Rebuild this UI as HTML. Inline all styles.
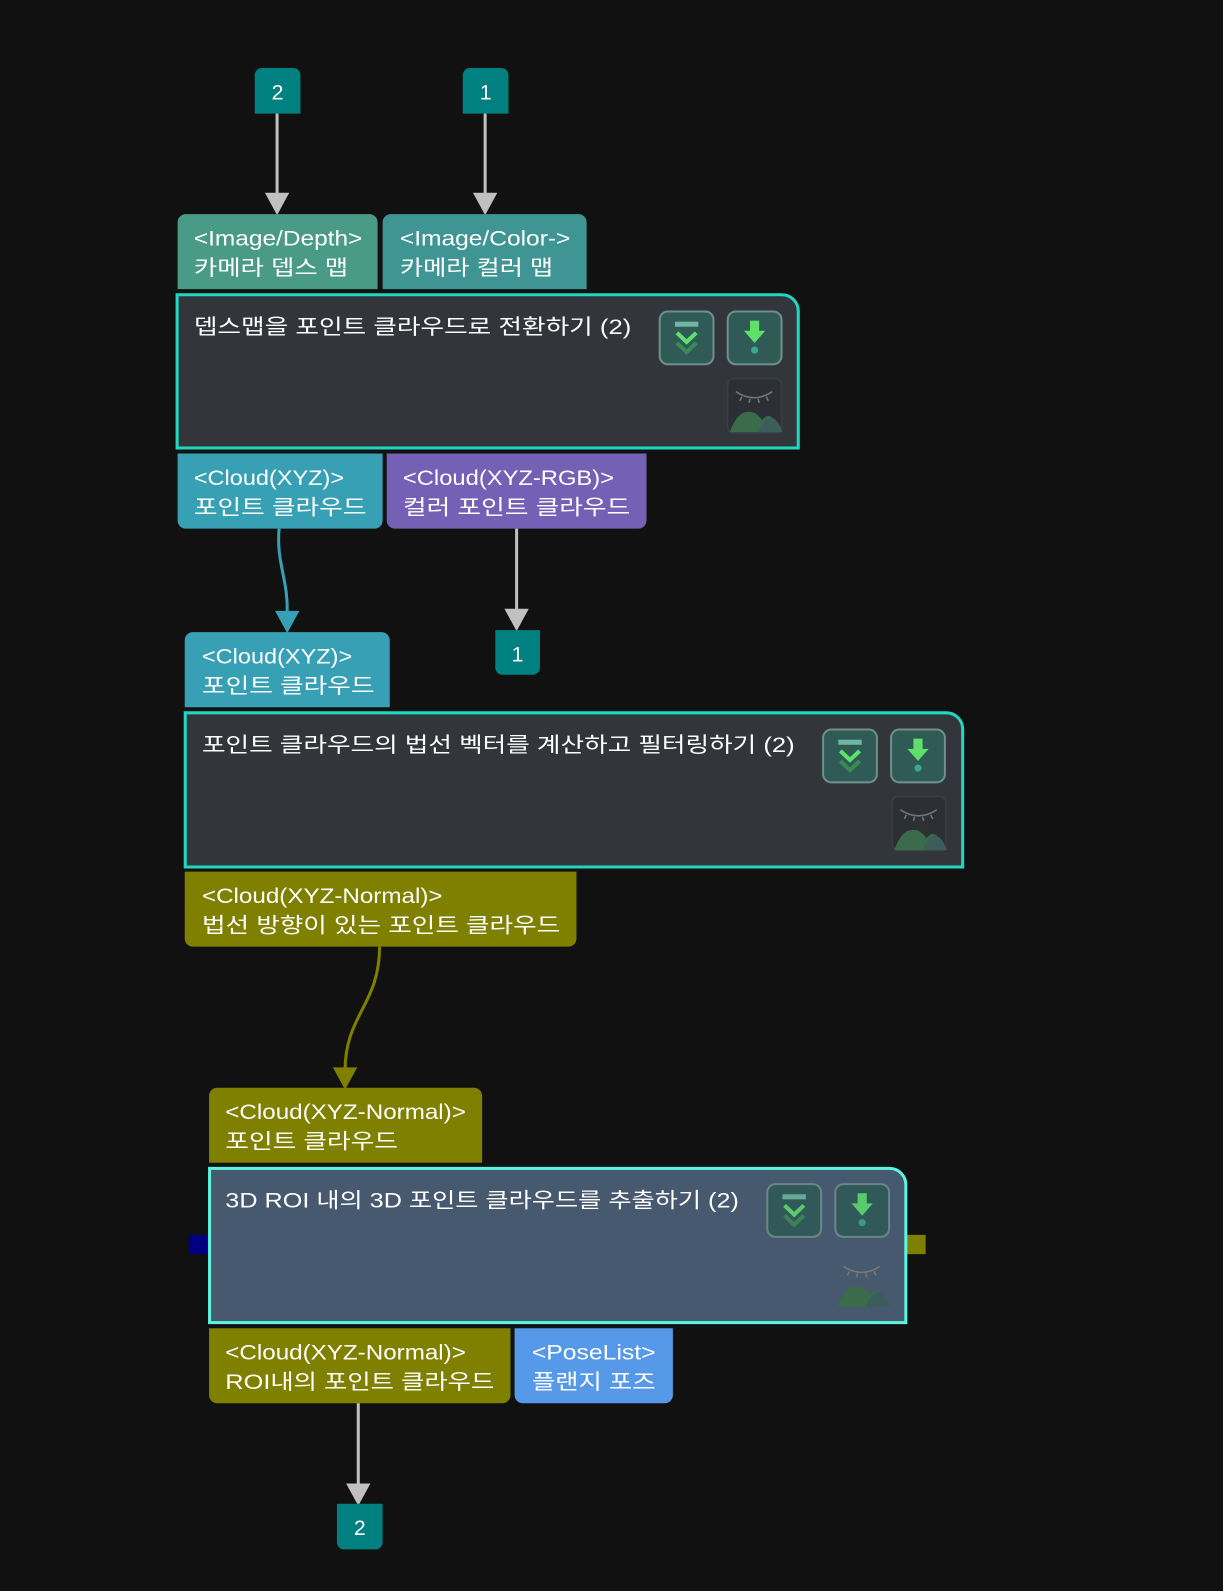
<!DOCTYPE html>
<html><head><meta charset="utf-8"><style>
html,body{margin:0;padding:0;background:#111111;}
svg{display:block}
text{font-family:"Liberation Sans","Noto Sans CJK KR",sans-serif;fill:#ffffff;font-size:21px;}
</style></head><body>
<svg width="1223" height="1591" viewBox="0 0 1205 1568" preserveAspectRatio="none" xmlns="http://www.w3.org/2000/svg">
<defs>
<g id="btns">
  <rect x="0" y="0" width="53" height="52" rx="8" fill="#2f5a56" stroke="#6e8f8c" stroke-width="2"/>
  <rect x="15" y="10" width="23" height="5" fill="#6fb7a0"/>
  <path d="M17 21 L26.5 30 L36 21" stroke="#5ee06a" stroke-width="4" fill="none"/>
  <path d="M17 31 L26.5 40 L36 31" stroke="#3a8a55" stroke-width="4" fill="none"/>
  <rect x="67" y="0" width="53" height="52" rx="8" fill="#2f5a56" stroke="#6e8f8c" stroke-width="2"/>
  <path d="M89 9 h9 v10 h6 l-10.5 12 l-10.5 -12 h6z" fill="#5ee06a"/>
  <circle cx="93.5" cy="38" r="3.5" fill="#3aa890"/>
</g>
<g id="img">
  <path d="M8 12 q18 12 36 0" stroke="#777" stroke-width="1.5" fill="none"/>
  <path d="M14 17 l-2 4 M22 19 l-1 4 M30 19 l1 4 M38 17 l2 4" stroke="#777" stroke-width="1.5"/>
  <path d="M2 52 q8 -22 20 -20 q6 0 12 8 q6 -8 12 0 l6 12z" fill="#3a6b4a"/>
  <path d="M30 52 q6 -16 14 -14 q6 2 10 14z" fill="#3d5d5c"/>
</g>
</defs>

<!-- top inputs -->
<path d="M456 74 a7 7 0 0 1 7 -7 h31 a7 7 0 0 1 7 7 v38 h-45z" fill="#008080"/>
<text x="478.5" y="98" text-anchor="middle">1</text>
<path d="M251 74 a7 7 0 0 1 7 -7 h31 a7 7 0 0 1 7 7 v38 h-45z" fill="#008080"/>
<text x="273.5" y="98" text-anchor="middle">2</text>

<line x1="273" y1="112" x2="273" y2="192" stroke="#c0c0c0" stroke-width="3"/>
<path d="M261 190 h24 l-12 22z" fill="#c0c0c0"/>
<line x1="478" y1="112" x2="478" y2="192" stroke="#c0c0c0" stroke-width="3"/>
<path d="M466 190 h24 l-12 22z" fill="#c0c0c0"/>

<!-- node1 inputs -->
<path d="M175 285 v-66 a8 8 0 0 1 8 -8 h181 a8 8 0 0 1 8 8 v66z" fill="#4a9a88"/>
<text x="191" y="242" textLength="166" lengthAdjust="spacingAndGlyphs">&lt;Image/Depth&gt;</text><text x="191" y="271" textLength="152" lengthAdjust="spacingAndGlyphs">카메라 뎁스 맵</text>
<path d="M377 285 v-66 a8 8 0 0 1 8 -8 h185 a8 8 0 0 1 8 8 v66z" fill="#3f9494"/>
<text x="394" y="242" textLength="168" lengthAdjust="spacingAndGlyphs">&lt;Image/Color-&gt;</text><text x="394" y="271" textLength="151" lengthAdjust="spacingAndGlyphs">카메라 컬러 맵</text>

<!-- node1 -->
<path d="M174.5 290.5 h596 a16 16 0 0 1 16 16 v135 h-612z" fill="#32363b" stroke="#1fd8c0" stroke-width="3"/>
<text x="191" y="329" textLength="431" lengthAdjust="spacingAndGlyphs">뎁스맵을 포인트 클라우드로 전환하기 (2)</text>
<use href="#btns" x="650" y="307"/>
<rect x="717" y="373" width="53" height="54" rx="6" fill="#2c3034" stroke="#3a3f44" stroke-width="1.5"/>
<use href="#img" x="717" y="374"/>

<!-- node1 outputs -->
<path d="M175 447 h202 v66 a8 8 0 0 1 -8 8 h-186 a8 8 0 0 1 -8 -8z" fill="#38a0b4"/>
<text x="191" y="478" textLength="148" lengthAdjust="spacingAndGlyphs">&lt;Cloud(XYZ)&gt;</text><text x="191" y="507" textLength="170" lengthAdjust="spacingAndGlyphs">포인트 클라우드</text>
<path d="M381 447 h256 v66 a8 8 0 0 1 -8 8 h-240 a8 8 0 0 1 -8 -8z" fill="#7460b4"/>
<text x="397" y="478" textLength="208" lengthAdjust="spacingAndGlyphs">&lt;Cloud(XYZ-RGB)&gt;</text><text x="397" y="507" textLength="224" lengthAdjust="spacingAndGlyphs">컬러 포인트 클라우드</text>

<path d="M275 521 C272 555 284 570 283 605" stroke="#38a0b4" stroke-width="3" fill="none"/>
<path d="M271 602 h24 l-12 22z" fill="#38a0b4"/>
<line x1="509" y1="521" x2="509" y2="602" stroke="#c0c0c0" stroke-width="3"/>
<path d="M497 600 h24 l-12 22z" fill="#c0c0c0"/>
<path d="M488 621 h44 v37 a7 7 0 0 1 -7 7 h-30 a7 7 0 0 1 -7 -7z" fill="#008080"/>
<text x="510" y="652" text-anchor="middle">1</text>

<!-- node2 input -->
<path d="M182 697 v-66 a8 8 0 0 1 8 -8 h186 a8 8 0 0 1 8 8 v66z" fill="#38a0b4"/>
<text x="199" y="654" textLength="148" lengthAdjust="spacingAndGlyphs">&lt;Cloud(XYZ)&gt;</text><text x="199" y="683" textLength="170" lengthAdjust="spacingAndGlyphs">포인트 클라우드</text>

<!-- node2 -->
<path d="M182.5 702.5 h750 a16 16 0 0 1 16 16 v136 h-766z" fill="#32363b" stroke="#1fd8c0" stroke-width="3"/>
<text x="199" y="741" textLength="584" lengthAdjust="spacingAndGlyphs">포인트 클라우드의 법선 벡터를 계산하고 필터링하기 (2)</text>
<use href="#btns" x="811" y="719"/>
<rect x="879" y="785" width="53" height="53" rx="6" fill="#2c3034" stroke="#3a3f44" stroke-width="1.5"/>
<use href="#img" x="879" y="786"/>

<path d="M182 859 h386 v66 a8 8 0 0 1 -8 8 h-370 a8 8 0 0 1 -8 -8z" fill="#808000"/>
<text x="199" y="890" textLength="237" lengthAdjust="spacingAndGlyphs">&lt;Cloud(XYZ-Normal)&gt;</text><text x="199" y="919" textLength="353" lengthAdjust="spacingAndGlyphs">법선 방향이 있는 포인트 클라우드</text>

<path d="M374 933 C374 990 340 1000 340 1055" stroke="#808000" stroke-width="3" fill="none"/>
<path d="M328 1052 h24 l-12 22z" fill="#808000"/>

<!-- node3 input -->
<path d="M206 1146 v-66 a8 8 0 0 1 8 -8 h253 a8 8 0 0 1 8 8 v66z" fill="#808000"/>
<text x="222" y="1103" textLength="237" lengthAdjust="spacingAndGlyphs">&lt;Cloud(XYZ-Normal)&gt;</text><text x="222" y="1132" textLength="170" lengthAdjust="spacingAndGlyphs">포인트 클라우드</text>

<!-- node3 -->
<rect x="186" y="1217" width="19" height="19" fill="#000080"/>
<rect x="893" y="1217" width="19" height="19" fill="#808000"/>
<path d="M206.5 1151.5 h670 a16 16 0 0 1 16 16 v136 h-686z" fill="#46596e" stroke="#5ef5e0" stroke-width="3"/>
<text x="222" y="1190" textLength="506" lengthAdjust="spacingAndGlyphs">3D ROI 내의 3D 포인트 클라우드를 추출하기 (2)</text>
<g opacity="0.85"><use href="#btns" x="756" y="1167"/></g>
<use href="#img" x="823" y="1236"/>

<path d="M206 1309 h297 v66 a8 8 0 0 1 -8 8 h-281 a8 8 0 0 1 -8 -8z" fill="#808000"/>
<text x="222" y="1340" textLength="237" lengthAdjust="spacingAndGlyphs">&lt;Cloud(XYZ-Normal)&gt;</text><text x="222" y="1369" textLength="265" lengthAdjust="spacingAndGlyphs">ROI내의 포인트 클라우드</text>
<path d="M507 1309 h156 v66 a8 8 0 0 1 -8 8 h-140 a8 8 0 0 1 -8 -8z" fill="#5599e8"/>
<text x="524" y="1340" textLength="122" lengthAdjust="spacingAndGlyphs">&lt;PoseList&gt;</text><text x="524" y="1369" textLength="122" lengthAdjust="spacingAndGlyphs">플랜지 포즈</text>

<line x1="353" y1="1383" x2="353" y2="1464" stroke="#c0c0c0" stroke-width="3"/>
<path d="M341 1462 h24 l-12 22z" fill="#c0c0c0"/>
<path d="M332 1482 h45 v38 a7 7 0 0 1 -7 7 h-31 a7 7 0 0 1 -7 -7z" fill="#008080"/>
<text x="354.5" y="1513" text-anchor="middle">2</text>
</svg>
</body></html>
